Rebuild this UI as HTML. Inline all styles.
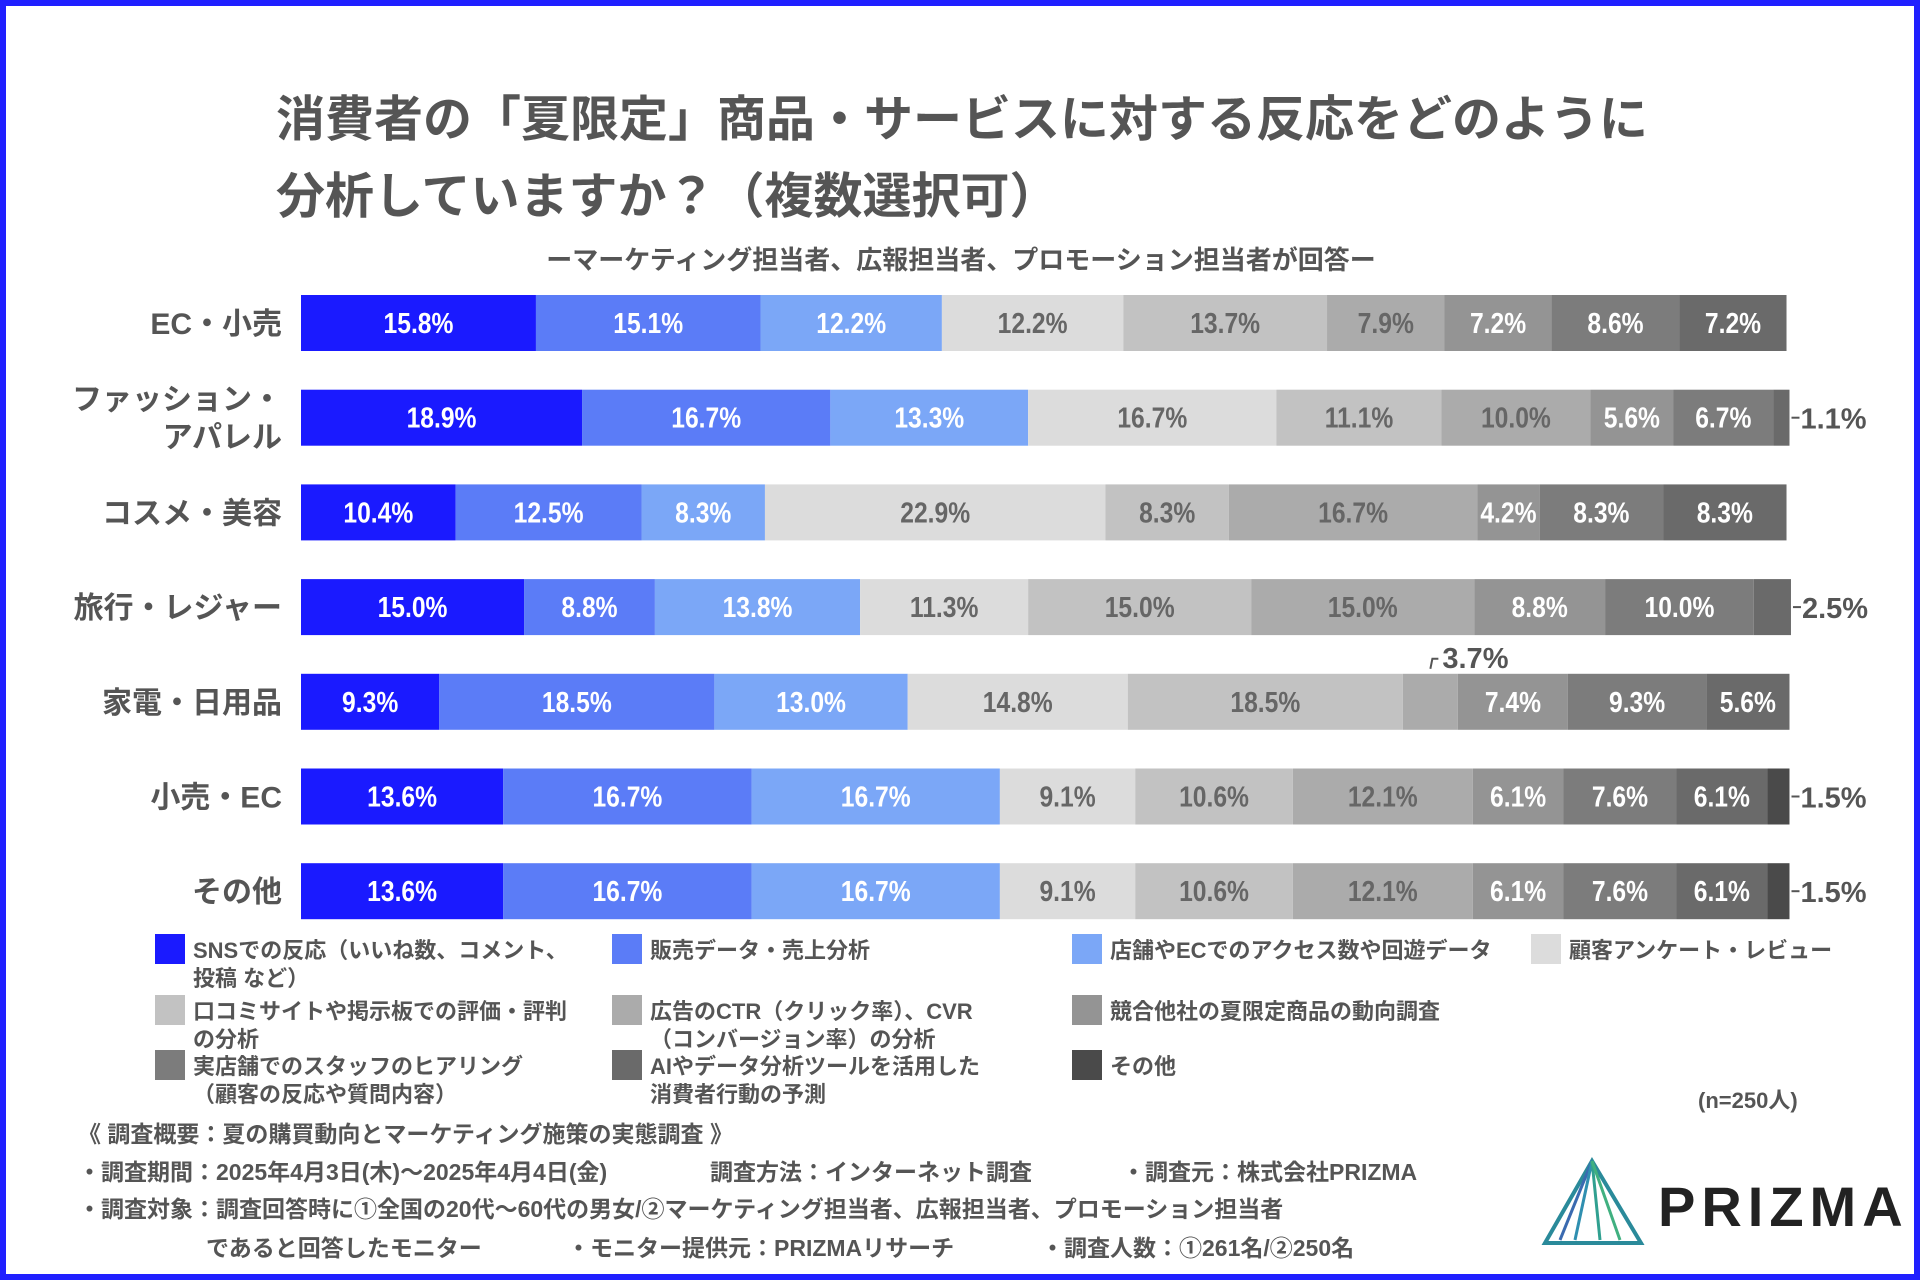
<!DOCTYPE html>
<html><head><meta charset="utf-8">
<style>
html,body{margin:0;padding:0;background:#fff;}
body{width:1920px;height:1280px;overflow:hidden;}
svg{display:block;font-family:"Liberation Sans","Noto Sans CJK JP",sans-serif;}
</style></head>
<body>
<svg id="chart" width="1920" height="1280" viewBox="0 0 1920 1280" xmlns="http://www.w3.org/2000/svg">
<rect x="3" y="3" width="1914" height="1274" fill="#fff" stroke="#1f1fff" stroke-width="6"/>
<g font-size="49" font-weight="bold" fill="#555">
<text x="276" y="136">消費者の「夏限定」商品・サービスに対する反応をどのように</text>
<text x="276" y="213">分析していますか？（複数選択可）</text>
</g>
<text x="961" y="269" font-size="26" font-weight="bold" fill="#555" text-anchor="middle">ーマーケティング担当者、広報担当者、プロモーション担当者が回答ー</text>
<g id="bars"></g>
<g id="rowlabels" font-size="30" font-weight="bold" fill="#555" text-anchor="end"></g>
<g id="legend" font-size="22" font-weight="bold" fill="#555"></g>
<text x="1698" y="1108" font-size="22" font-weight="bold" fill="#555">(n=250人)</text>
<g font-size="23" font-weight="bold" fill="#555">
<text x="78" y="1142">《 調査概要：夏の購買動向とマーケティング施策の実態調査 》</text>
<text x="78" y="1180">・調査期間：2025年4月3日(木)〜2025年4月4日(金)</text>
<text x="710" y="1180">調査方法：インターネット調査</text>
<text x="1122" y="1180">・調査元：株式会社PRIZMA</text>
<text x="78" y="1217">・調査対象：調査回答時に①全国の20代〜60代の男女/②マーケティング担当者、広報担当者、プロモーション担当者</text>
<text x="206" y="1256">であると回答したモニター</text>
<text x="567" y="1256">・モニター提供元：PRIZMAリサーチ</text>
<text x="1041" y="1256">・調査人数：①261名/②250名</text>
</g>
<g>
<polygon points="1592,1161 1545,1243 1641,1243" fill="none" stroke="#2a8a9a" stroke-width="4"/>
<line x1="1592" y1="1161" x2="1560" y2="1240" stroke="#3a6ab0" stroke-width="3"/>
<line x1="1592" y1="1161" x2="1575" y2="1240" stroke="#2f8fb0" stroke-width="3"/>
<line x1="1592" y1="1161" x2="1600" y2="1240" stroke="#30a090" stroke-width="3"/>
<line x1="1592" y1="1161" x2="1620" y2="1240" stroke="#40b080" stroke-width="3"/>
<text x="1658" y="1226" font-size="56" font-weight="bold" fill="#222" letter-spacing="6">PRIZMA</text>
</g>
</svg>
<script>
const categories=["EC・小売","ファッション・アパレル","コスメ・美容","旅行・レジャー","家電・日用品","小売・EC","その他"];
const seriesNames=["SNSでの反応","販売データ・売上分析","店舗やECでのアクセス数や回遊データ","顧客アンケート・レビュー","口コミサイトや掲示板での評価・評判の分析","広告のCTR・CVRの分析","競合他社の夏限定商品の動向調査","実店舗でのスタッフのヒアリング","AIやデータ分析ツールを活用した消費者行動の予測","その他"];
const sns=[15.8,18.9,10.4,15.0,9.3,13.6,13.6];
const sales=[15.1,16.7,12.5,8.8,18.5,16.7,16.7];
const access=[12.2,13.3,8.3,13.8,13.0,16.7,16.7];
const survey=[12.2,16.7,22.9,11.3,14.8,9.1,9.1];
const reviews=[13.7,11.1,8.3,15.0,18.5,10.6,10.6];
const ads=[7.9,10.0,16.7,15.0,3.7,12.1,12.1];
const rivals=[7.2,5.6,4.2,8.8,7.4,6.1,6.1];
const staff=[8.6,6.7,8.3,10.0,9.3,7.6,7.6];
const ai=[7.2,1.1,8.3,2.5,5.6,6.1,6.1];
const other=[0,0,0,0,0,1.5,1.5];
const series=[sns,sales,access,survey,reviews,ads,rivals,staff,ai,other];
const colors=["#1a1aff","#5b7cf7","#7ba7f7","#dcdcdc","#c2c2c2","#ababab","#949494","#7c7c7c","#6a6a6a","#4a4a4a"];
const textColors=["#fff","#fff","#fff","#666","#666","#666","#fff","#fff","#fff","#fff"];
const NS="http://www.w3.org/2000/svg";
const x0=301,xScale=v=>v/100*1487;
const rowY=i=>323+i*94.7;
const barH=56;
const bars=document.getElementById('bars');
categories.forEach((c,i)=>{
  let acc=0;
  const cy=rowY(i);
  series.forEach((s,k)=>{
    const v=s[i];
    if(v<=0)return;
    const x=x0+xScale(acc),w=xScale(v);
    const r=document.createElementNS(NS,'rect');
    
    
    r.setAttribute('x',x);r.setAttribute('y',cy-barH/2);r.setAttribute('width',w);r.setAttribute('height',barH);r.setAttribute('fill',colors[k]);
    bars.appendChild(r);
    const t=document.createElementNS(NS,'text');
    
    
    t.setAttribute('font-size','29');t.setAttribute('font-weight','bold');
    t.textContent=v.toFixed(1)+'%';
    if(w>=58){
      t.setAttribute('x',x+w/2);t.setAttribute('y',cy+10);t.setAttribute('text-anchor','middle');
      t.setAttribute('fill',textColors[k]);
      t.setAttribute('transform','translate('+(x+w/2)+',0) scale(0.85,1) translate('+(-(x+w/2))+',0)');
      bars.appendChild(t);
    } else if(k===series.length-1||k===series.length-2&&series[9][i]===0){
      const l=document.createElementNS(NS,'line');
      
      
      l.setAttribute('x1',x+w+2);l.setAttribute('x2',x+w+10);l.setAttribute('y1',cy);l.setAttribute('y2',cy);l.setAttribute('stroke','#555');l.setAttribute('stroke-width','2');
      bars.appendChild(l);
      t.setAttribute('x',x+w+11);t.setAttribute('y',cy+11);t.setAttribute('fill','#555');
      bars.appendChild(t);
    } else {
      const l=document.createElementNS(NS,'path');
      
      
      l.setAttribute('d','M'+(x+w/2)+','+(cy-barH/2-5)+' l2,-10 h6');l.setAttribute('stroke','#555');l.setAttribute('fill','none');l.setAttribute('stroke-width','2');
      bars.appendChild(l);
      t.setAttribute('x',x+w/2+12);t.setAttribute('y',cy-barH/2-6);t.setAttribute('fill','#555');
      bars.appendChild(t);
    }
    acc+=v;
  });
});
const rl=document.getElementById('rowlabels');
categories.forEach((c,i)=>{
  const cy=rowY(i);
  const lines=c==="ファッション・アパレル"?["ファッション・","アパレル"]:[c];
  lines.forEach((ln,j)=>{
    const t=document.createElementNS(NS,'text');
    
    
    t.setAttribute('x',282);
    t.setAttribute('y',lines.length===1?cy+11:cy-8+j*38);
    t.textContent=ln;
    rl.appendChild(t);
  });
});
const legendItems=[
 [155,934,["SNSでの反応（いいね数、コメント、","投稿 など）"],0,0],
 [612,934,["販売データ・売上分析"],1,0],
 [1072,934,["店舗やECでのアクセス数や回遊データ"],2,0],
 [1531,934,["顧客アンケート・レビュー"],3,0],
 [155,995,["口コミサイトや掲示板での評価・評判","の分析"],4,0],
 [612,995,["広告のCTR（クリック率）、CVR","（コンバージョン率）の分析"],5,0],
 [1072,995,["競合他社の夏限定商品の動向調査"],6,0],
 [155,1050,["実店舗でのスタッフのヒアリング","（顧客の反応や質問内容）"],7,0],
 [612,1050,["AIやデータ分析ツールを活用した","消費者行動の予測"],8,0],
 [1072,1050,["その他"],9,0]
];
const lg=document.getElementById('legend');
legendItems.forEach(it=>{
  const r=document.createElementNS(NS,'rect');
  
  
  r.setAttribute('x',it[0]);r.setAttribute('y',it[1]);r.setAttribute('width',30);r.setAttribute('height',30);r.setAttribute('fill',colors[it[3]]);
  lg.appendChild(r);
  it[2].forEach((ln,j)=>{
    const t=document.createElementNS(NS,'text');
    
    
    t.setAttribute('x',it[0]+38);t.setAttribute('y',it[1]+24+j*28);
    t.textContent=ln;
    lg.appendChild(t);
  });
});
</script>
</body></html>
